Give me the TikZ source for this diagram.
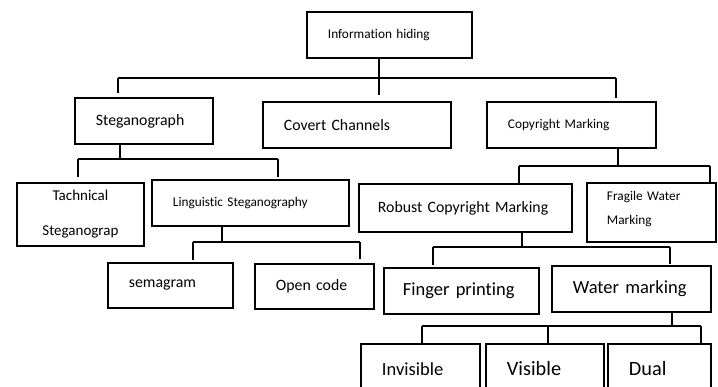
\documentclass[tikz,border=0pt]{standalone}
\usepackage{fontspec}
\setmainfont{Carlito}[Ligatures=NoCommon]
\begin{document}
\begin{tikzpicture}[x=1pt,y=-1pt,
  box/.style={draw=black, line width=1.9pt, anchor=north west, inner ysep=0pt,
              inner xsep=21pt, align=left, fill=white},
  conn/.style={draw=black, line width=1.9pt},
  fs/.style={font=\fontsize{13.3}{16}\selectfont},
  fm/.style={font=\fontsize{15.8}{19}\selectfont},
  fl/.style={font=\fontsize{18.5}{22}\selectfont},
  fx/.style={font=\fontsize{20.3}{24}\selectfont}]
\useasboundingbox (0,0) rectangle (718,387);
\clip (0,0) rectangle (718,387);
% boxes
\node[box,fs,minimum width=165pt,minimum height=46pt,text width=123pt] (info) at (306,11) {Information hiding};
\node[box,fm,minimum width=138pt,minimum height=46pt,text width=96pt] (steg) at (74,97) {Steganograph};
\node[box,fm,minimum width=188pt,minimum height=46pt,text width=146pt] (covert) at (262,101) {Covert Channels};
\node[box,fs,minimum width=169pt,minimum height=46pt,text width=127pt] (copy) at (486,101) {Copyright Marking};
\node[box,align=center,inner xsep=6pt,font=\fontsize{15}{35}\selectfont,minimum width=127pt,minimum height=63pt,text width=115pt] (tach) at (16,182) {Tachnical\\Steganograp};
\node[box,fs,minimum width=197pt,minimum height=46pt,text width=155pt] (ling) at (151,179) {Linguistic Steganography};
\node[box,inner xsep=20pt,font=\fontsize{13.3}{24}\selectfont,minimum width=129pt,minimum height=59pt,text width=89pt] (frag) at (586,182) {Fragile Water\\Marking\\[-14pt]\mbox{}};
\node[box,fm,inner xsep=19pt,minimum width=213pt,minimum height=48pt,text width=175pt] (robust) at (358,183) {Robust Copyright Marking};
\node[box,fm,minimum width=125pt,minimum height=45pt,text width=83pt] (sema) at (107,262) {semagram};
\node[box,fm,minimum width=119pt,minimum height=45pt,text width=77pt] (open) at (254,263) {Open code};
\node[box,fl,inner xsep=19pt,minimum width=155pt,minimum height=46pt,text width=117pt] (finger) at (383,267) {Finger printing};
\node[box,fl,minimum width=159pt,minimum height=46pt,text width=117pt] (water) at (551,265) {Water marking};
\node[box,fl,minimum width=119pt,minimum height=50pt,text width=77pt] (invis) at (360,343) {Invisible};
\node[box,fx,minimum width=118pt,minimum height=50pt,text width=76pt] (vis) at (485,343) {Visible};
\node[box,fx,minimum width=103pt,minimum height=50pt,text width=61pt] (dual) at (607,343) {Dual};
% level 1
\coordinate (b1m) at (379,78);
\coordinate (b1l) at (118,78);
\coordinate (b1r) at (616,78);
\coordinate (d1l) at (118,93);
\coordinate (d1m) at (379,95);
\coordinate (d1r) at (616,98);
\draw[conn] (info.south -| b1m) -- (b1m);
\draw[conn] (b1l) -- (b1r);
\draw[conn] (b1l) -- (d1l);
\draw[conn] (b1m) -- (d1m);
\draw[conn] (b1r) -- (d1r);
% under Steganograph
\coordinate (b2m) at (120,159);
\coordinate (b2l) at (78,159);
\coordinate (b2r) at (278,159);
\coordinate (d2l) at (78,177);
\coordinate (d2r) at (278,177);
\draw[conn] (steg.south -| b2m) -- (b2m);
\draw[conn] (b2l) -- (b2r);
\draw[conn] (b2l) -- (d2l);
\draw[conn] (b2r) -- (d2r);
% under Linguistic
\coordinate (b3m) at (222,242);
\coordinate (b3l) at (193,242);
\coordinate (b3r) at (360,242);
\coordinate (d3l) at (193,260);
\coordinate (d3r) at (360,259);
\draw[conn] (ling.south -| b3m) -- (b3m);
\draw[conn] (b3l) -- (b3r);
\draw[conn] (b3l) -- (d3l);
\draw[conn] (b3r) -- (d3r);
% under Copyright
\coordinate (b4m) at (618,166);
\coordinate (b4l) at (519,166);
\coordinate (b4r) at (710,166);
\draw[conn] (copy.south -| b4m) -- (b4m);
\draw[conn] (b4l) -- (b4r);
\draw[conn] (b4l) -- (robust.north -| b4l);
\draw[conn] (b4r) -- (frag.north -| b4r);
% under Robust
\coordinate (b5m) at (522,247);
\coordinate (b5l) at (433,247);
\coordinate (b5r) at (670,247);
\coordinate (d5l) at (433,265);
\coordinate (d5r) at (670,264);
\draw[conn] (robust.south -| b5m) -- (b5m);
\draw[conn] (b5l) -- (b5r);
\draw[conn] (b5l) -- (d5l);
\draw[conn] (b5r) -- (d5r);
% under Water
\coordinate (b6m) at (672,326);
\coordinate (b6l) at (422,326);
\coordinate (b6c) at (548,326);
\coordinate (b6r) at (701,326);
\draw[conn] (water.south -| b6m) -- (b6m);
\draw[conn] (b6l) -- (b6r);
\draw[conn] (b6l) -- (invis.north -| b6l);
\draw[conn] (b6c) -- (vis.north -| b6c);
\draw[conn] (b6r) -- (dual.north -| b6r);
\end{tikzpicture}
\end{document}
